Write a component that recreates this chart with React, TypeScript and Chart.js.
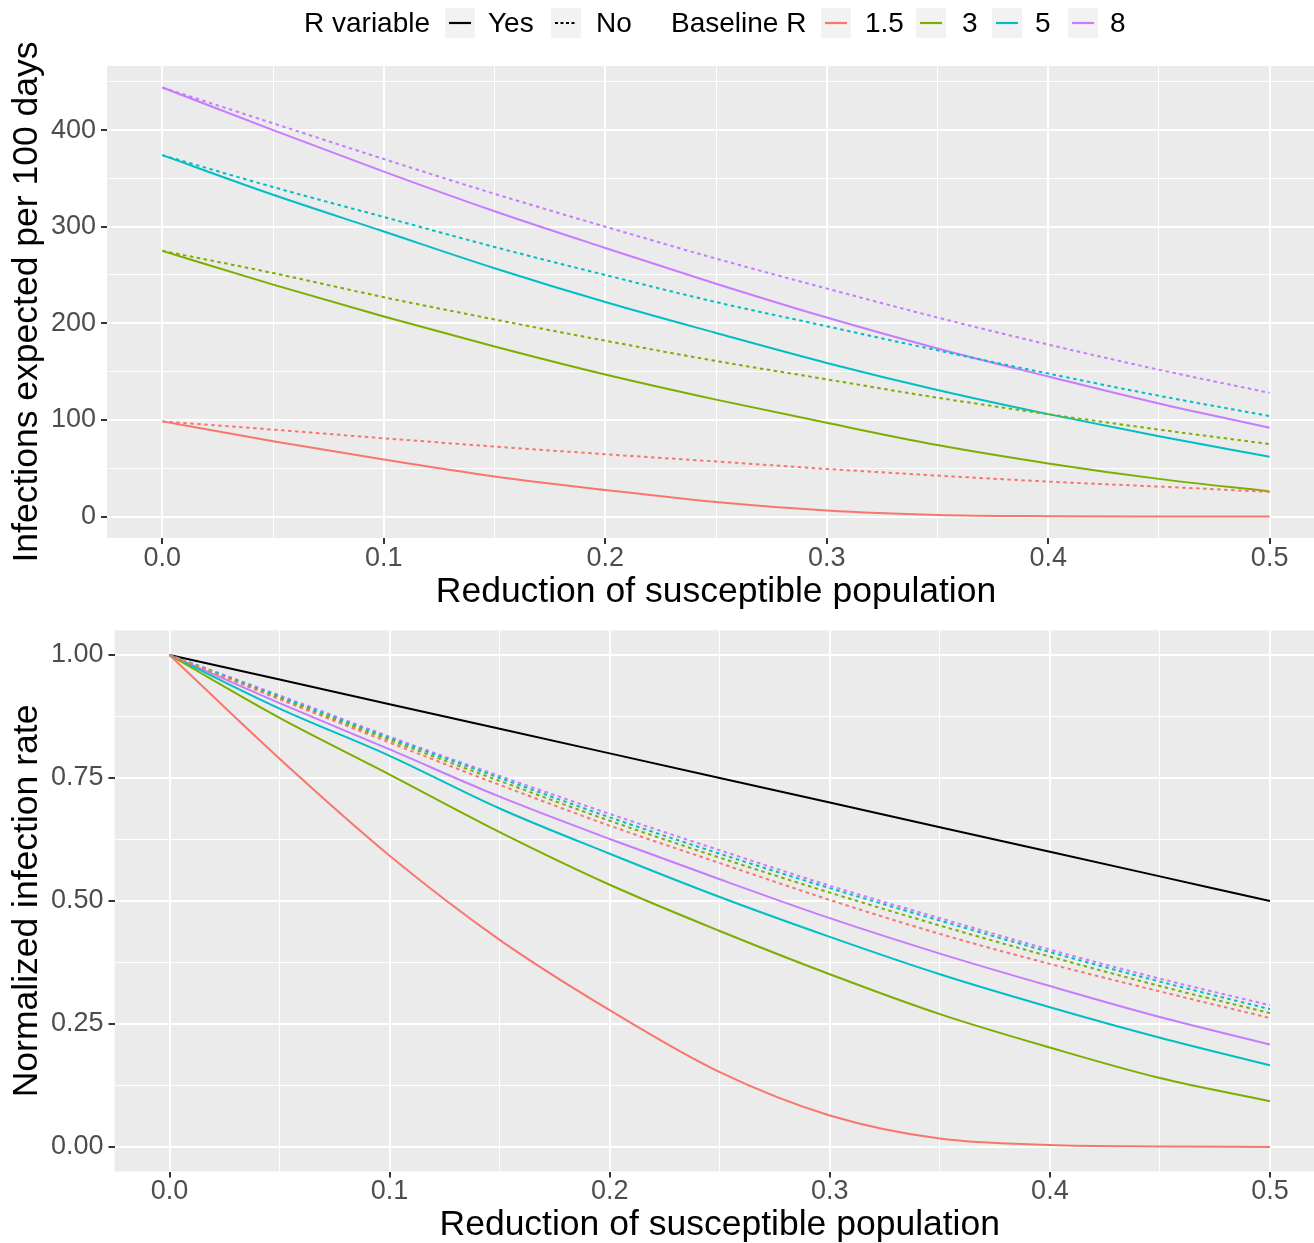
import React, { useEffect, useRef } from "react";
import { Chart, registerables } from "chart.js";

Chart.register(...registerables);

// ---------- data ----------
const reduction = [0, 0.05, 0.1, 0.15, 0.2, 0.25, 0.3, 0.35, 0.4, 0.45, 0.5];
const baselineR = ["1.5", "3", "5", "8"];
const seriesColors = ["#F8766D", "#7CAE00", "#00BFC4", "#C77CFF"];

// Infections expected per 100 days (top panel)
const infVar15 = [98.5, 78, 59, 41.5, 27.5, 15, 6.2, 1.7, 0.4, 0.1, 0];
const infVar3 = [275, 240, 207, 176, 147, 121, 97, 74, 55, 39, 26];
const infVar5 = [374, 333, 295, 257, 222, 190, 159, 131, 106, 83, 62];
const infVar8 = [444, 400, 357, 316, 278, 241, 206, 174, 145, 117, 92];
const infFix15 = [98.5, 90, 81, 72.5, 64.5, 57, 49.3, 42.4, 36.2, 31, 25.5];
const infFix3 = [275, 252, 227, 204, 182, 161, 142, 123, 106, 90, 75];
const infFix5 = [374, 341, 310, 279, 250, 222, 197, 172, 148, 125, 104];
const infFix8 = [444, 407, 370, 334, 300, 267, 236, 206, 178, 152, 128];

// Normalized infection rate (bottom panel)
const normRef = [1, 0.95, 0.9, 0.85, 0.8, 0.75, 0.7, 0.65, 0.6, 0.55, 0.5];
const normVar15 = [1, 0.789, 0.592, 0.421, 0.278, 0.152, 0.064, 0.017, 0.004, 0.001, 0];
const normVar3 = [1, 0.872, 0.757, 0.64, 0.533, 0.439, 0.351, 0.27, 0.202, 0.14, 0.093];
const normVar5 = [1, 0.891, 0.795, 0.688, 0.596, 0.508, 0.427, 0.351, 0.284, 0.222, 0.166];
const normVar8 = [1, 0.902, 0.808, 0.712, 0.626, 0.544, 0.465, 0.393, 0.327, 0.264, 0.208];
const normFix15 = [1, 0.91, 0.822, 0.736, 0.653, 0.577, 0.502, 0.433, 0.372, 0.316, 0.262];
const normFix3 = [1, 0.912, 0.827, 0.744, 0.663, 0.588, 0.517, 0.45, 0.387, 0.327, 0.272];
const normFix5 = [1, 0.915, 0.831, 0.75, 0.67, 0.596, 0.526, 0.46, 0.396, 0.336, 0.28];
const normFix8 = [1, 0.918, 0.834, 0.754, 0.677, 0.603, 0.531, 0.465, 0.401, 0.342, 0.288];

// grid / tick positions
const xGridTicks = [0, 0.05, 0.1, 0.15, 0.2, 0.25, 0.3, 0.35, 0.4, 0.45, 0.5];
const yTopTicks = [0, 50, 100, 150, 200, 250, 300, 350, 400, 450];
const yBottomTicks = [0, 0.125, 0.25, 0.375, 0.5, 0.625, 0.75, 0.875, 1];

// ---------- styling ----------
const FONT = "'Liberation Sans', Arial, Helvetica, sans-serif";
const PANEL = "#EBEBEB";
const DASH = [3.5, 3.5];

const panelBg = {
  id: "panelBg",
  beforeDraw(chart: any) {
    const { ctx, chartArea: a } = chart;
    ctx.save();
    ctx.fillStyle = PANEL;
    ctx.fillRect(a.left, a.top, a.right - a.left, a.bottom - a.top);
    ctx.restore();
  },
};

const near = (v: number, step: number) => Math.abs(v / step - Math.round(v / step)) < 1e-6;

function pts(ys: number[]) {
  return reduction.map((x, i) => ({ x, y: ys[i] }));
}

function line(label: string, ys: number[], color: string, dotted: boolean) {
  return {
    label,
    data: pts(ys),
    borderColor: color,
    backgroundColor: color,
    borderWidth: 2,
    borderDash: dotted ? DASH : [],
    pointRadius: 0,
    cubicInterpolationMode: "monotone",
    fill: false,
  };
}

function xScale(height: number, titleBottomPad: number) {
  return {
    type: "linear",
    min: -0.025,
    max: 0.525,
    afterBuildTicks: (s: any) => {
      s.ticks = xGridTicks.map((v) => ({ value: v }));
    },
    afterFit: (s: any) => {
      s.height = height;
      s.paddingLeft = 0;
      s.paddingRight = 0;
    },
    border: { display: false },
    grid: {
      color: "#FFFFFF",
      lineWidth: (c: any) => (c.tick && near(c.tick.value, 0.1) ? 2 : 1),
      tickColor: (c: any) => (c.tick && near(c.tick.value, 0.1) ? "#333333" : "rgba(0,0,0,0)"),
      tickLength: 6,
      tickWidth: 2,
      drawTicks: true,
    },
    ticks: {
      autoSkip: false,
      maxRotation: 0,
      minRotation: 0,
      padding: 1,
      color: "#4D4D4D",
      font: { family: FONT, size: 27, lineHeight: 1 },
      callback: (v: any) => (near(Number(v), 0.1) ? Number(v).toFixed(1) : ""),
    },
    title: {
      display: true,
      text: "Reduction of susceptible population",
      color: "#000000",
      font: { family: FONT, size: 35.5, lineHeight: 1 },
      padding: { top: 0, bottom: titleBottomPad },
    },
  };
}

function yScale(
  min: number,
  max: number,
  ticks: number[],
  major: number,
  digits: number,
  width: number,
  title: string
) {
  return {
    type: "linear",
    min,
    max,
    afterBuildTicks: (s: any) => {
      s.ticks = ticks.map((v) => ({ value: v }));
    },
    afterFit: (s: any) => {
      s.width = width;
      s.paddingTop = 0;
      s.paddingBottom = 0;
    },
    border: { display: false },
    grid: {
      color: "#FFFFFF",
      lineWidth: (c: any) => (c.tick && near(c.tick.value, major) ? 2 : 1),
      tickColor: (c: any) => (c.tick && near(c.tick.value, major) ? "#333333" : "rgba(0,0,0,0)"),
      tickLength: 6,
      tickWidth: 2,
      drawTicks: true,
    },
    ticks: {
      autoSkip: false,
      padding: 5,
      color: "#4D4D4D",
      font: { family: FONT, size: 27, lineHeight: 1 },
      callback: (v: any) => (near(Number(v), major) ? Number(v).toFixed(digits) : ""),
    },
    title: {
      display: true,
      text: title,
      color: "#000000",
      font: { family: FONT, size: 35.5, lineHeight: 1 },
      padding: { top: 9, bottom: 0 },
    },
  };
}

const CANVAS_W = 1325;

function TopChart() {
  const ref = useRef<HTMLCanvasElement | null>(null);
  useEffect(() => {
    if (!ref.current) return;
    const solid = [infVar15, infVar3, infVar5, infVar8];
    const dotted = [infFix15, infFix3, infFix5, infFix8];
    const datasets: any[] = [];
    baselineR.forEach((r, i) => datasets.push(line(`${r} No`, dotted[i], seriesColors[i], true)));
    baselineR.forEach((r, i) => datasets.push(line(`${r} Yes`, solid[i], seriesColors[i], false)));
    const chart = new Chart(ref.current, {
      type: "line",
      data: { datasets },
      plugins: [panelBg],
      options: {
        responsive: false,
        animation: false,
        devicePixelRatio: 1,
        layout: { padding: { top: 66, left: 0, right: 0, bottom: 0 } },
        plugins: { legend: { display: false }, tooltip: { enabled: false } },
        scales: {
          x: xScale(82, 10.25),
          y: yScale(-22.2, 466.3, yTopTicks, 100, 0, 107, "Infections expected per 100 days"),
        },
      } as any,
    } as any);
    return () => chart.destroy();
  }, []);
  return (
    <canvas
      ref={ref}
      width={CANVAS_W}
      height={620}
      style={{ position: "absolute", left: 0, top: 0, width: CANVAS_W, height: 620 }}
    />
  );
}

function BottomChart() {
  const ref = useRef<HTMLCanvasElement | null>(null);
  useEffect(() => {
    if (!ref.current) return;
    const solid = [normVar15, normVar3, normVar5, normVar8];
    const dotted = [normFix15, normFix3, normFix5, normFix8];
    const datasets: any[] = [];
    baselineR.forEach((r, i) => datasets.push(line(`${r} No`, dotted[i], seriesColors[i], true)));
    baselineR.forEach((r, i) => datasets.push(line(`${r} Yes`, solid[i], seriesColors[i], false)));
    datasets.push(line("Reference", normRef, "#000000", false));
    const chart = new Chart(ref.current, {
      type: "line",
      data: { datasets },
      plugins: [panelBg],
      options: {
        responsive: false,
        animation: false,
        devicePixelRatio: 1,
        layout: { padding: { top: 10.4, left: 0, right: 0, bottom: 0 } },
        plugins: { legend: { display: false }, tooltip: { enabled: false } },
        scales: {
          x: xScale(71.5, 0.25),
          y: yScale(-0.05, 1.05, yBottomTicks, 0.25, 2, 114.5, "Normalized infection rate"),
        },
      } as any,
    } as any);
    return () => chart.destroy();
  }, []);
  return (
    <canvas
      ref={ref}
      width={CANVAS_W}
      height={623}
      style={{ position: "absolute", left: 0, top: 620, width: CANVAS_W, height: 623 }}
    />
  );
}

function LegendKey({ left, color, dotted }: { left: number; color: string; dotted: boolean }) {
  return (
    <svg width={30} height={30} style={{ position: "absolute", left, top: 8 }}>
      <rect x={0} y={0} width={30} height={30} fill="#F2F2F2" />
      <line
        x1={4}
        y1={15}
        x2={26}
        y2={15}
        stroke={color}
        strokeWidth={2.2}
        strokeDasharray={dotted ? "3 2.5" : undefined}
      />
    </svg>
  );
}

function LegendText({ left, text }: { left: number; text: string }) {
  return (
    <span
      style={{
        position: "absolute",
        left,
        top: 9,
        fontFamily: FONT,
        fontSize: 28,
        lineHeight: "28px",
        color: "#000000",
        whiteSpace: "nowrap",
      }}
    >
      {text}
    </span>
  );
}

const legendKeyLeft = [821, 916, 992, 1068];
const legendLabelLeft = [865, 962, 1035, 1110];

function Legend() {
  return (
    <div style={{ position: "absolute", left: 0, top: 0, width: 1314, height: 46 }}>
      <LegendText left={304} text="R variable" />
      <LegendKey left={445} color="#000000" dotted={false} />
      <LegendText left={488} text="Yes" />
      <LegendKey left={551} color="#000000" dotted={true} />
      <LegendText left={596} text="No" />
      <LegendText left={671} text="Baseline R" />
      {baselineR.map((r, i) => (
        <React.Fragment key={r}>
          <LegendKey left={legendKeyLeft[i]} color={seriesColors[i]} dotted={false} />
          <LegendText left={legendLabelLeft[i]} text={r} />
        </React.Fragment>
      ))}
    </div>
  );
}

export default function App() {
  return (
    <div
      style={{
        position: "absolute",
        left: 0,
        top: 0,
        width: 1314,
        height: 1243,
        overflow: "hidden",
        background: "#FFFFFF",
      }}
    >
      <TopChart />
      <BottomChart />
      <Legend />
    </div>
  );
}
